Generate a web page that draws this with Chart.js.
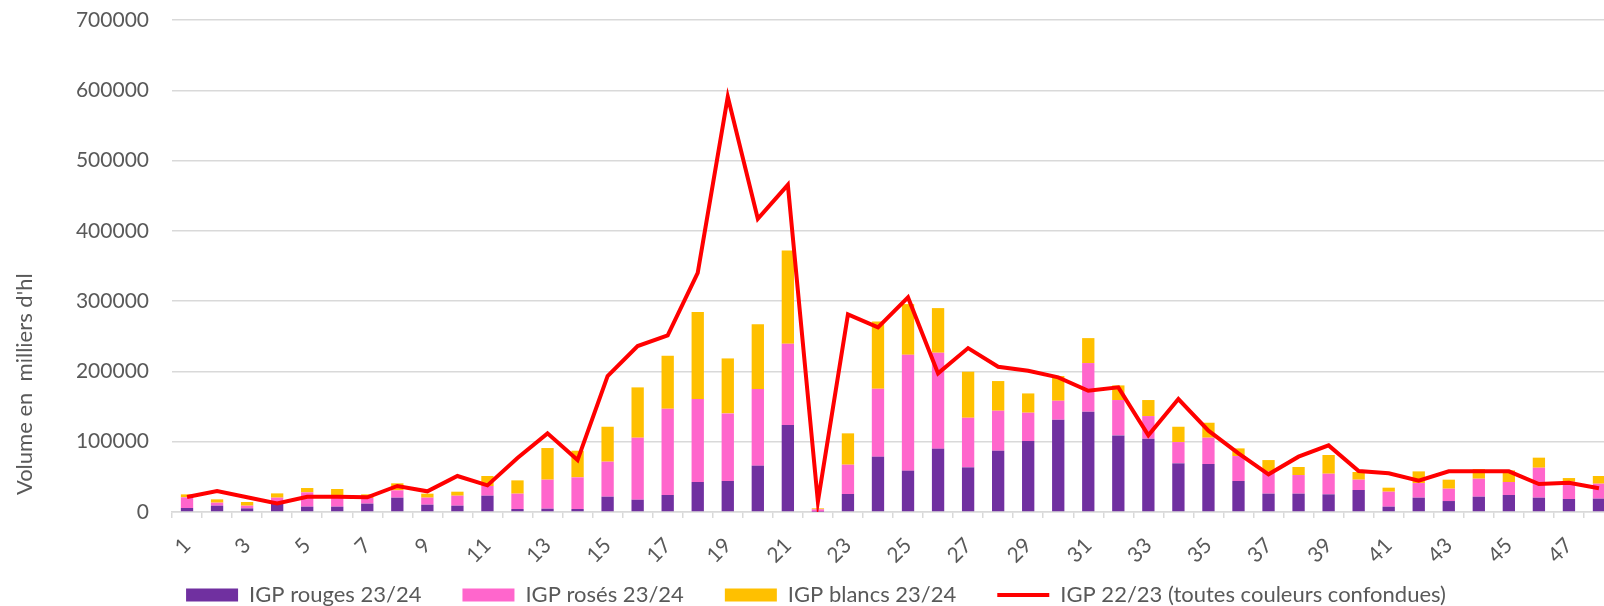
<!DOCTYPE html>
<html>
<head>
<meta charset="utf-8">
<script src="https://cdn.jsdelivr.net/npm/chart.js@4"></script>
<style>
  html, body { margin: 0; padding: 0; background: #fff; overflow: hidden; }
  #wrap { position: relative; width: 1614px; height: 606px; }
</style>
</head>
<body>
<div id="wrap"><canvas id="igpChart"></canvas></div>
<script>
// semaines 1..48
const weeks = [];
for (let i = 1; i <= 48; i++) weeks.push(String(i));

const rouges2324 = [5700, 9000, 5200, 12300, 7600, 7600, 11900, 20400, 10400, 9000,
    23200, 4300, 4700, 4300, 21800, 17500, 24200, 42700, 44100, 65900,
    123700, 500, 25600, 78700, 58800, 90100, 63500, 87200, 101000, 131300,
    142700, 109000, 104300, 69200, 68300, 44100, 26100, 26100, 25100, 31300,
    7600, 20400, 15600, 21800, 24200, 20400, 18500, 19000];

const roses2324 = [15200, 4300, 3800, 8100, 20400, 15600, 8000, 10400, 10000, 14200,
    13800, 21800, 41300, 45000, 49800, 88200, 122700, 118000, 96200, 109000,
    115700, 3300, 41700, 96700, 164900, 136500, 70600, 56900, 40300, 27000,
    69200, 50300, 32200, 30300, 37400, 35500, 31300, 26500, 29400, 14700,
    21300, 20800, 17600, 25600, 18500, 42600, 24600, 21300];

const blancs2324 = [4200, 4700, 5200, 6100, 6100, 9500, 5200, 10000, 5700, 5700,
    14200, 18900, 45000, 37900, 49700, 71600, 75400, 123700, 78200, 92400,
    132700, 1400, 44600, 95700, 72100, 63500, 65500, 42200, 27400, 35100,
    35500, 20800, 22800, 21800, 21300, 10900, 16500, 11400, 26600, 10900,
    5700, 16600, 12800, 13700, 16500, 14300, 5200, 10900];

const total2223 = [21300, 29900, 20900, 12300, 21800, 21800, 20900, 37000, 29400, 51200,
    37900, 76800, 111900, 73900, 193400, 236100, 251200, 340300, 590600, 417100,
    465500, 14700, 281100, 262600, 305300, 197200, 233200, 206700, 201000, 191500,
    172500, 177300, 109000, 160700, 115700, 83400, 53600, 78700, 94800, 58300,
    55000, 44600, 57800, 57800, 57800, 39800, 41700, 33700];

const textColor = '#595959';
const gridColor = '#d9d9d9';
const fontFamily = 'Lato, "Noto Sans", sans-serif';

function barSet(label, data, color) {
    return {
        type: 'bar',
        label: label,
        data: data,
        backgroundColor: color,
        borderColor: color,
        borderWidth: 0,
        barPercentage: 0.41,
        categoryPercentage: 1,
        stack: 'igp',
        order: 1
    };
}

// legend sits lower than its layout box (like the Excel one)
const legendPlace = {
    id: 'legendPlace',
    afterLayout(chart) {
        chart.legend.top = 543;
        chart.legend.left += 18;
    }
};

const ctx = document.getElementById('igpChart').getContext('2d');
new Chart(ctx, {
    data: {
        labels: weeks,
        datasets: [
            barSet('IGP rouges 23/24', rouges2324, '#7030A0'),
            barSet('IGP rosés 23/24', roses2324, '#FF66CC'),
            barSet('IGP blancs 23/24', blancs2324, '#FFC000'),
            {
                type: 'line',
                label: 'IGP 22/23 (toutes couleurs confondues)',
                data: total2223,
                borderColor: '#FF0000',
                backgroundColor: '#FF0000',
                borderWidth: 4,
                pointRadius: 0,
                tension: 0,
                fill: false,
                order: 0
            }
        ]
    },
    plugins: [legendPlace],
    options: {
        responsive: true,
        maintainAspectRatio: false,
        animation: false,
        layout: { padding: { top: 20, right: 0, bottom: 0, left: 0 } },
        plugins: {
            tooltip: { enabled: false },
            legend: {
                position: 'bottom',
                maxHeight: 40,
                labels: {
                    color: textColor,
                    font: { family: fontFamily, size: 22 },
                    usePointStyle: true,
                    pointStyleWidth: 52,
                    boxHeight: 13,
                    padding: 41,
                    sort: (a, b) => a.datasetIndex - b.datasetIndex,
                    generateLabels: (chart) => chart.data.datasets.map((ds, i) => ({
                        text: ds.label,
                        datasetIndex: i,
                        fillStyle: ds.backgroundColor,
                        strokeStyle: ds.borderColor,
                        lineWidth: ds.type === 'line' ? 4 : 0,
                        pointStyle: ds.type === 'line' ? 'line' : 'rect',
                        fontColor: textColor,
                        hidden: false
                    }))
                }
            }
        },
        scales: {
            x: {
                stacked: true,
                grid: {
                    offset: true,
                    drawOnChartArea: false,
                    drawTicks: true,
                    tickLength: 6,
                    color: gridColor,
                    lineWidth: 1.5
                },
                border: { color: gridColor, width: 1.5 },
                ticks: {
                    autoSkip: false,
                    minRotation: 45,
                    maxRotation: 45,
                    color: textColor,
                    font: { family: fontFamily, size: 21 },
                    padding: 15,
                    callback: function (value, index) {
                        return index % 2 === 0 ? this.getLabelForValue(value) : '';
                    }
                },
                afterFit: (scale) => {
                    scale.height = 54;
                    scale.paddingLeft = 0;
                    scale.paddingRight = 0;
                }
            },
            y: {
                stacked: true,
                min: 0,
                max: 700000,
                grid: {
                    color: gridColor,
                    lineWidth: 1.5,
                    drawTicks: false
                },
                border: { display: false },
                ticks: {
                    stepSize: 100000,
                    padding: 23,
                    color: textColor,
                    font: { family: fontFamily, size: 21 },
                    callback: (value) => String(value)
                },
                title: {
                    display: true,
                    text: "   Volume en  milliers d'hl",
                    align: 'start',
                    color: textColor,
                    font: { family: fontFamily, size: 22 },
                    padding: { top: 12, bottom: 0 }
                },
                afterFit: (scale) => {
                    scale.width = 172;
                    scale.paddingTop = 0;
                    scale.paddingBottom = 0;
                }
            }
        }
    }
});
</script>
</body>
</html>
